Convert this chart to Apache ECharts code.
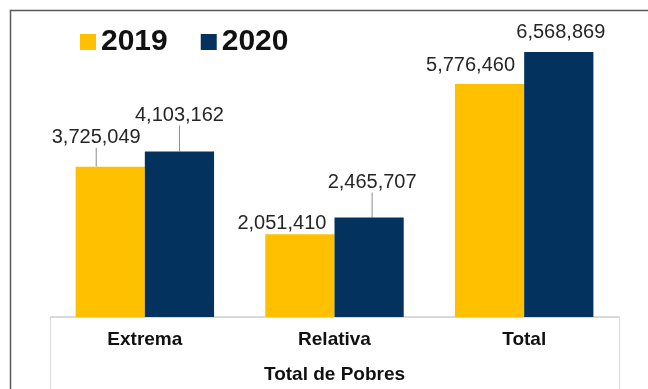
<!DOCTYPE html>
<html>
<head>
<meta charset="utf-8">
<script src="https://cdn.jsdelivr.net/npm/echarts@6/dist/echarts.min.js"></script>
<style>
  html, body { margin: 0; padding: 0; background: #fff; }
  #chart { width: 648px; height: 389px; }
</style>
</head>
<body>
<div id="chart"></div>
<script>
// Poverty headcount by type, 2019 vs 2020
const categories = ['Extrema', 'Relativa', 'Total'];
const years = ['2019', '2020'];
const values2019 = [3725049, 2051410, 5776460];
const values2020 = [4103162, 2465707, 6568869];
const axisTitle = 'Total de Pobres';

const FONT = "'Liberation Sans', Arial, sans-serif";
const colors = ['#FFC000', '#03325F'];

// label nudges (px) and which labels get a guide line
const labelShift = {
  0: [[-14, -19], [-18, -1], [-19, -8]],
  1: [[0, -26], [3, -25], [2, -10]]
};
const guide = {
  0: [true, false, false],
  1: [true, true, false]
};

const fmt = v => v.toLocaleString('en-US');

function makeSeries(idx, vals) {
  return {
    name: years[idx],
    type: 'bar',
    barGap: '0%',
    barCategoryGap: '27%',
    itemStyle: { color: colors[idx] },
    data: vals.map((v, i) => ({
      value: v,
      labelLine: { show: guide[idx][i] }
    })),
    label: {
      show: true,
      position: 'top',
      distance: 0,
      fontFamily: FONT,
      fontSize: 20,
      lineHeight: 20,
      color: '#262626',
      formatter: p => fmt(p.value)
    },
    labelLine: {
      show: false,
      length2: 0,
      lineStyle: { color: '#8c8c8c', width: 1 }
    },
    labelLayout: p => {
      const s = labelShift[idx][p.dataIndex];
      return { dx: s[0], dy: s[1] };
    }
  };
}

const chart = echarts.init(document.getElementById('chart'));
chart.setOption({
  animation: false,
  backgroundColor: '#fff',
  textStyle: { fontFamily: FONT },
  graphic: [
    {
      type: 'rect',
      shape: { x: 10.5, y: 10.5, width: 700, height: 500 },
      style: { fill: 'none', stroke: '#5a5a5a', lineWidth: 1.5 },
      silent: true
    },
    {
      type: 'rect',
      shape: { x: 50.5, y: 316.5, width: 569, height: 120 },
      style: { fill: 'none', stroke: '#d9d9d9', lineWidth: 1 },
      silent: true
    }
  ],
  legend: {
    left: 75,
    top: 22,
    icon: 'rect',
    itemWidth: 16,
    itemHeight: 16,
    itemGap: 33,
    textStyle: { fontFamily: FONT, fontSize: 30, fontWeight: 'bold', color: '#111' },
    data: years
  },
  grid: { left: 50, right: 29, top: 34.6, bottom: 72 },
  xAxis: {
    type: 'category',
    data: categories,
    axisLine: { show: true, lineStyle: { color: '#d9d9d9', width: 1 } },
    axisTick: { show: false },
    axisLabel: {
      margin: 13,
      fontFamily: FONT,
      fontSize: 19,
      fontWeight: 'bold',
      color: '#111'
    },
    name: axisTitle,
    nameLocation: 'middle',
    nameGap: 48,
    nameTextStyle: { fontFamily: FONT, fontSize: 19, fontWeight: 'bold', color: '#111' }
  },
  yAxis: {
    type: 'value',
    min: 0,
    max: 7000000,
    show: false,
    splitLine: { show: false }
  },
  series: [makeSeries(0, values2019), makeSeries(1, values2020)]
});
</script>
</body>
</html>
